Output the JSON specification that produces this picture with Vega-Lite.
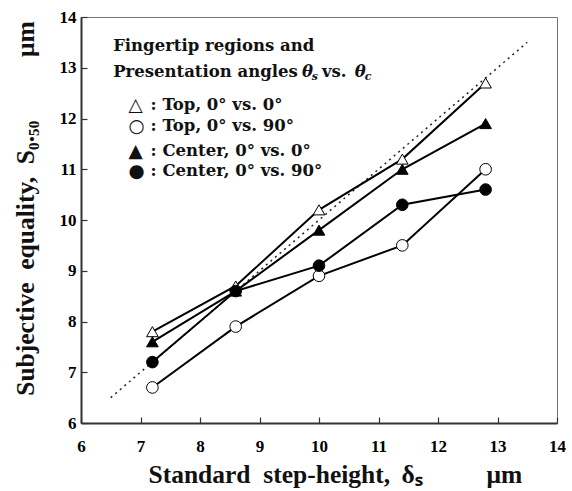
{
  "$schema": "https://vega.github.io/schema/vega-lite/v6.json",
  "width": 476,
  "height": 406,
  "autosize": {"type": "none"},
  "padding": {"left": 81, "top": 17, "right": 15, "bottom": 68},
  "background": "white",
  "config": {
    "view": {"stroke": "#777", "strokeWidth": 1},
    "font": "Liberation Serif",
    "axis": {
      "domainColor": "#333",
      "domainWidth": 2,
      "tickColor": "#333",
      "tickWidth": 1.2,
      "tickSize": -6,
      "grid": false,
      "labelFlush": false,
      "format": "d",
      "labelFont": "Liberation Serif",
      "labelFontWeight": 900,
      "labelFontSize": 17,
      "labelColor": "#000",
      "titleFont": "Liberation Serif",
      "titleFontWeight": "bold",
      "titleFontSize": 25.5,
      "titleColor": "#111"
    }
  },
  "datasets": {
    "obs": [
      {"x": 7.2, "y": 7.8, "series": "Top, 0° vs. 0°"},
      {"x": 8.6, "y": 8.7, "series": "Top, 0° vs. 0°"},
      {"x": 10.0, "y": 10.2, "series": "Top, 0° vs. 0°"},
      {"x": 11.4, "y": 11.2, "series": "Top, 0° vs. 0°"},
      {"x": 12.8, "y": 12.7, "series": "Top, 0° vs. 0°"},
      {"x": 7.2, "y": 6.7, "series": "Top, 0° vs. 90°"},
      {"x": 8.6, "y": 7.9, "series": "Top, 0° vs. 90°"},
      {"x": 10.0, "y": 8.9, "series": "Top, 0° vs. 90°"},
      {"x": 11.4, "y": 9.5, "series": "Top, 0° vs. 90°"},
      {"x": 12.8, "y": 11.0, "series": "Top, 0° vs. 90°"},
      {"x": 7.2, "y": 7.6, "series": "Center, 0° vs. 0°"},
      {"x": 8.6, "y": 8.6, "series": "Center, 0° vs. 0°"},
      {"x": 10.0, "y": 9.8, "series": "Center, 0° vs. 0°"},
      {"x": 11.4, "y": 11.0, "series": "Center, 0° vs. 0°"},
      {"x": 12.8, "y": 11.9, "series": "Center, 0° vs. 0°"},
      {"x": 7.2, "y": 7.2, "series": "Center, 0° vs. 90°"},
      {"x": 8.6, "y": 8.6, "series": "Center, 0° vs. 90°"},
      {"x": 10.0, "y": 9.1, "series": "Center, 0° vs. 90°"},
      {"x": 11.4, "y": 10.3, "series": "Center, 0° vs. 90°"},
      {"x": 12.8, "y": 10.6, "series": "Center, 0° vs. 90°"}
    ],
    "identity": [
      {"x": 6.5, "y": 6.5},
      {"x": 13.5, "y": 13.5}
    ],
    "legendText": [
      {"x": 6.54, "y": 13.42, "t": "Fingertip regions and"},
      {"x": 6.54, "y": 12.91, "t": "Presentation angles"},
      {"x": 10.05, "y": 12.91, "t": "vs."},
      {"x": 7.17, "y": 12.27, "t": ": Top, 0° vs. 0°"},
      {"x": 7.17, "y": 11.85, "t": ": Top, 0° vs. 90°"},
      {"x": 7.17, "y": 11.36, "t": ": Center, 0° vs. 0°"},
      {"x": 7.17, "y": 10.96, "t": ": Center, 0° vs. 90°"}
    ],
    "legendSymbols": [
      {"x": 6.80, "y": 12.27, "t": "△"},
      {"x": 6.80, "y": 11.85, "t": "○"},
      {"x": 6.80, "y": 11.36, "t": "▲"},
      {"x": 6.80, "y": 10.96, "t": "●"}
    ],
    "thetaText": [
      {"x": 9.713, "y": 12.91, "t": "θ"},
      {"x": 10.60, "y": 12.91, "t": "θ"}
    ],
    "subText": [
      {"x": 9.88, "y": 12.82, "t": "s"},
      {"x": 10.77, "y": 12.82, "t": "c"}
    ]
  },
  "layer": [
    {
      "data": {"name": "identity"},
      "mark": {"type": "line", "color": "#222", "strokeWidth": 1.5, "strokeDash": [2, 4]},
      "encoding": {
        "x": {"field": "x", "type": "quantitative", "scale": {"domain": [6, 14], "nice": false},
          "axis": {"values": [6,7,8,9,10,11,12,13,14], "labelPadding": 21,
            "title": "Standard\u2002step-height,\u00a0\u2009δₛ\u2003\u2003\u2002μm",
            "titleAnchor": "start", "titleX": 67, "titleY": 59, "titleBaseline": "alphabetic"}},
        "y": {"field": "y", "type": "quantitative", "scale": {"domain": [6, 14], "nice": false},
          "axis": {"values": [6,7,8,9,10,11,12,13,14], "labelPadding": 11,
            "title": "Subjective\u2002equality,\u2002S₀.₅₀\u2003\u2003\u2002μm",
            "titleAnchor": "middle", "titleX": -48, "titleY": 191, "titleBaseline": "alphabetic"}}
      }
    },
    {
      "data": {"name": "obs"},
      "mark": {"type": "line", "color": "#000", "strokeWidth": 2},
      "encoding": {
        "x": {"field": "x", "type": "quantitative"},
        "y": {"field": "y", "type": "quantitative"},
        "detail": {"field": "series"}
      }
    },
    {
      "data": {"name": "obs"},
      "mark": {"type": "point", "filled": true, "stroke": "#000", "strokeWidth": 1, "opacity": 1, "size": 135},
      "encoding": {
        "x": {"field": "x", "type": "quantitative"},
        "y": {"field": "y", "type": "quantitative"},
        "shape": {"field": "series", "type": "nominal", "legend": null,
          "scale": {"domain": ["Top, 0° vs. 0°", "Top, 0° vs. 90°", "Center, 0° vs. 0°", "Center, 0° vs. 90°"],
                    "range": ["triangle-up", "circle", "triangle-up", "circle"]}},
        "fill": {"field": "series", "type": "nominal", "legend": null,
          "scale": {"domain": ["Top, 0° vs. 0°", "Top, 0° vs. 90°", "Center, 0° vs. 0°", "Center, 0° vs. 90°"],
                    "range": ["#ffffff", "#ffffff", "#000000", "#000000"]}}
      }
    },
    {
      "data": {"name": "legendText"},
      "mark": {"type": "text", "align": "left", "baseline": "middle", "font": "DejaVu Serif", "fontWeight": "bold", "fontSize": 16.5, "color": "#111"},
      "encoding": {
        "x": {"field": "x", "type": "quantitative"},
        "y": {"field": "y", "type": "quantitative"},
        "text": {"field": "t"}
      }
    },
    {
      "data": {"name": "legendSymbols"},
      "mark": {"type": "text", "align": "left", "baseline": "middle", "font": "DejaVu Sans", "fontSize": 18.5, "color": "#111"},
      "encoding": {
        "x": {"field": "x", "type": "quantitative"},
        "y": {"field": "y", "type": "quantitative"},
        "text": {"field": "t"}
      }
    },
    {
      "data": {"name": "thetaText"},
      "mark": {"type": "text", "align": "left", "baseline": "middle", "font": "DejaVu Serif", "fontWeight": "bold", "fontStyle": "italic", "fontSize": 16.5, "color": "#111"},
      "encoding": {
        "x": {"field": "x", "type": "quantitative"},
        "y": {"field": "y", "type": "quantitative"},
        "text": {"field": "t"}
      }
    },
    {
      "data": {"name": "subText"},
      "mark": {"type": "text", "align": "left", "baseline": "middle", "font": "DejaVu Serif", "fontWeight": "bold", "fontStyle": "italic", "fontSize": 11, "color": "#111"},
      "encoding": {
        "x": {"field": "x", "type": "quantitative"},
        "y": {"field": "y", "type": "quantitative"},
        "text": {"field": "t"}
      }
    }
  ]
}
